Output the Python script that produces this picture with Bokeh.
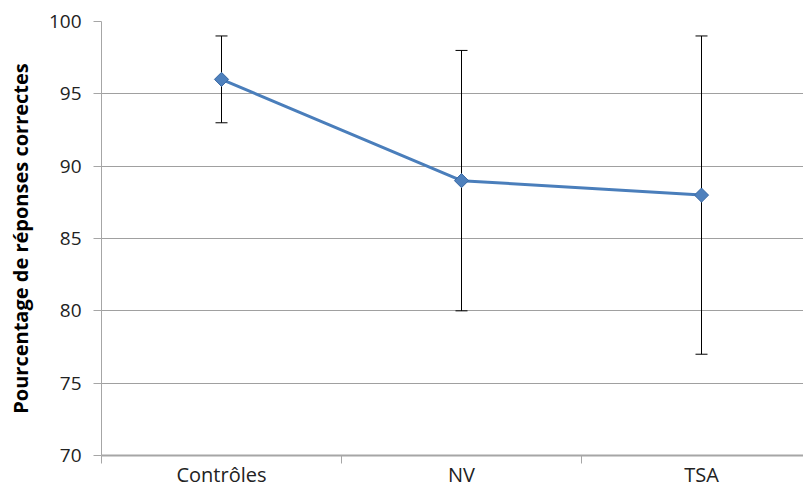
import math
from bokeh.plotting import figure
from bokeh.models import ColumnDataSource, FixedTicker, Range1d, Whisker, TeeHead
from bokeh.embed import file_html
from bokeh.resources import INLINE

categories = ["Contrôles", "NV", "TSA"]
values = [96, 89, 88]
lower = [93, 80, 77]
upper = [99, 98, 99]
y_ticks = [70, 75, 80, 85, 90, 95, 100]

xpos = [i + 0.5 for i in range(len(categories))]
src = ColumnDataSource(dict(x=xpos, y=values, lo=lower, up=upper))

W, H = 803, 491
LEFT, TOP, BOTTOM = 101, 21, 36
p = figure(width=W, height=H, output_backend="svg", toolbar_location=None,
           x_range=Range1d(0, (W - LEFT) / 240), y_range=Range1d(70, 100),
           min_border_left=LEFT, min_border_right=0, min_border_top=TOP,
           min_border_bottom=BOTTOM)
p.outline_line_color = None
p.background_fill_color = "white"

p.add_layout(Whisker(source=src, base="x", upper="up", lower="lo", dimension="height",
                     line_color="black", line_width=1,
                     upper_head=TeeHead(size=12, line_color="black", line_width=1),
                     lower_head=TeeHead(size=12, line_color="black", line_width=1)))
p.line("x", "y", source=src, line_color="#4a7ebb", line_width=3)
p.scatter("x", "y", source=src, marker="square", size=10, angle=math.pi / 4,
          fill_color="#4f81bd", line_color="#3a6aa5", line_width=1)

p.xaxis.ticker = FixedTicker(ticks=xpos, minor_ticks=[0, 1, 2, 3])
p.xaxis.major_label_overrides = {x: c for x, c in zip(xpos, categories)}
p.xaxis.major_tick_line_color = None
p.xaxis.major_tick_out = 0
p.xaxis.major_tick_in = 0
p.xaxis.minor_tick_in = 0
p.xaxis.minor_tick_out = 8
p.xaxis.minor_tick_line_color = "#a6a6a6"
p.xaxis.axis_line_color = "#a6a6a6"
p.xaxis.axis_line_width = 2
p.xaxis.major_label_text_font = "Open Sans"
p.xaxis.major_label_text_font_size = "20px"
p.xaxis.major_label_text_color = "#222222"
p.xaxis.major_label_standoff = -3

p.yaxis.ticker = FixedTicker(ticks=y_ticks)
p.yaxis.minor_tick_line_color = None
p.yaxis.major_tick_in = 0
p.yaxis.major_tick_out = 8
p.yaxis.major_tick_line_color = "#a6a6a6"
p.yaxis.axis_line_color = "#a6a6a6"
p.yaxis.major_label_text_font = "Open Sans"
p.yaxis.major_label_text_font_size = "19px"
p.yaxis.major_label_text_color = "#222222"
p.yaxis.major_label_standoff = 12
p.yaxis.axis_label = "Pourcentage de réponses correctes"
p.yaxis.axis_label_text_font = "Open Sans"
p.yaxis.axis_label_text_font_style = "bold"
p.yaxis.axis_label_text_font_size = "20px"
p.yaxis.axis_label_text_color = "black"
p.yaxis.axis_label_standoff = 12

p.xgrid.grid_line_color = None
p.ygrid.grid_line_color = "#a0a0a0"
p.ygrid.grid_line_width = 1

open("out.html", "w").write(file_html(p, INLINE))
